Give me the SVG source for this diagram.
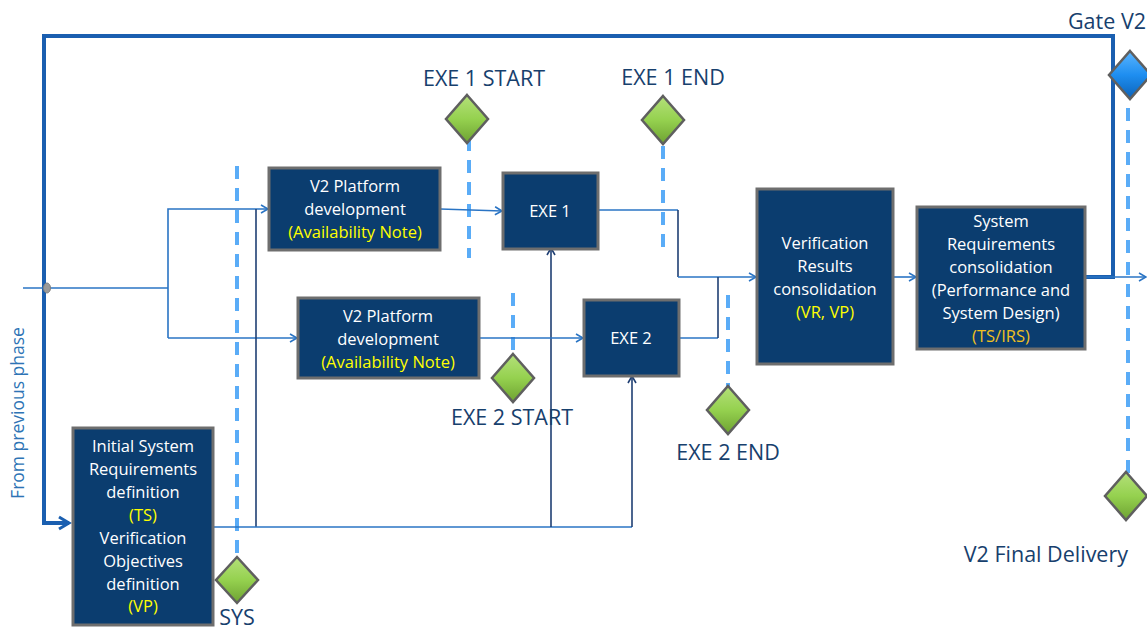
<svg xmlns="http://www.w3.org/2000/svg" width="1147" height="633" viewBox="0 0 1147 633">
<style>
.box{fill:#0b3d6f;stroke:#6e6e6e;stroke-width:3}
.bt{font-family:"Open Sans","Liberation Sans",sans-serif;font-size:16.5px;fill:#ffffff;text-anchor:middle}
.y{fill:#ffff00}
.g{fill:#f0c020}
.lbl{font-family:"Open Sans","Liberation Sans",sans-serif;font-size:21.5px;fill:#17406d;text-anchor:middle}
.c{fill:none;stroke:#2a74c4;stroke-width:1.6}
.cd{fill:none;stroke:#1f3f73;stroke-width:1.6}
.loop{fill:none;stroke:#1a5fb0;stroke-width:4}
.dash{fill:none;stroke:#5aacf7;stroke-width:4;stroke-dasharray:13 9}
.dia{fill:url(#gg);stroke:#5f5f5f;stroke-width:2.5}
</style>
<defs>
<linearGradient id="gg" x1="0" y1="0" x2="0" y2="1">
<stop offset="0" stop-color="#b4e07a"/><stop offset="0.5" stop-color="#95d14f"/><stop offset="1" stop-color="#6ea232"/>
</linearGradient>
<linearGradient id="bg" x1="0" y1="0" x2="0" y2="1">
<stop offset="0" stop-color="#5bb5ff"/><stop offset="0.5" stop-color="#1e8ef0"/><stop offset="1" stop-color="#0c62b8"/>
</linearGradient>
<marker id="a" markerWidth="10" markerHeight="10" refX="8" refY="5" orient="auto" markerUnits="userSpaceOnUse">
<path d="M1,1 L8,5 L1,9" fill="none" stroke="#2a74c4" stroke-width="1.6"/>
</marker>
<marker id="ad" markerWidth="10" markerHeight="10" refX="8" refY="5" orient="auto" markerUnits="userSpaceOnUse">
<path d="M1,1 L8,5 L1,9" fill="none" stroke="#1f3f73" stroke-width="1.6"/>
</marker>
<marker id="ab" markerWidth="16" markerHeight="16" refX="12" refY="8" orient="auto" markerUnits="userSpaceOnUse">
<path d="M2,2 L12,8 L2,14" fill="none" stroke="#1a5fb0" stroke-width="3"/>
</marker>
</defs>

<g id="milestones-lines">
<line class="dash" x1="237" y1="166" x2="237" y2="558"/>
<line class="dash" x1="469" y1="138" x2="469" y2="258"/>
<line class="dash" x1="663" y1="146" x2="663" y2="255"/>
<line class="dash" x1="513" y1="293" x2="513" y2="357"/>
<line class="dash" x1="728" y1="295" x2="728" y2="388"/>
<line class="dash" x1="1128" y1="108" x2="1128" y2="474"/>
</g>

<g id="connectors">
<path class="loop" d="M1086,277 L1113,277 L1113,36 L44,36 L44,523 L69,523" marker-end="url(#ab)"/>
<line class="c" x1="23" y1="288" x2="168" y2="288"/>
<path class="c" d="M168,338 L168,209 L268,209" marker-end="url(#a)"/>
<path class="c" d="M168,338 L297,338" marker-end="url(#a)"/>
<path class="cd" d="M256,527 L256,209"/>
<path class="c" d="M213,527 L632,527"/>
<path class="cd" d="M551,527 L551,248" marker-end="url(#ad)"/>
<path class="cd" d="M632,527 L632,376" marker-end="url(#ad)"/>
<path class="c" d="M440,209 L502,211" marker-end="url(#a)"/>
<path class="c" d="M479,338 L583,338" marker-end="url(#a)"/>
<path class="c" d="M598,210 L678,210"/>
<path class="cd" d="M678,210 L678,277"/>
<path class="c" d="M678,277 L756,277" marker-end="url(#a)"/>
<path class="c" d="M679,338 L718,338"/>
<path class="cd" d="M718,338 L718,277"/>
<path class="c" d="M893,277 L916,277" marker-end="url(#a)"/>
<path class="c" d="M1086,277 L1146,277" marker-end="url(#a)"/>
<ellipse cx="47" cy="288" rx="3.5" ry="5" fill="#9a9a9a" stroke="#808080" stroke-width="1"/>
</g>

<g id="init">
<rect class="box" x="73" y="428" width="140" height="197"/>
<text class="bt"><tspan x="143" y="452">Initial System</tspan><tspan x="143" y="475">Requirements</tspan><tspan x="143" y="498">definition</tspan><tspan x="143" y="521" class="y">(TS)</tspan><tspan x="143" y="544">Verification</tspan><tspan x="143" y="567">Objectives</tspan><tspan x="143" y="590">definition</tspan><tspan x="143" y="612" class="y">(VP)</tspan></text>
</g>

<g id="platform1">
<rect class="box" x="269" y="168" width="171" height="82"/>
<text class="bt"><tspan x="355" y="192">V2 Platform</tspan><tspan x="355" y="215">development</tspan><tspan x="355" y="238" class="y">(Availability Note)</tspan></text>
</g>

<g id="platform2">
<rect class="box" x="298" y="298" width="181" height="80"/>
<text class="bt"><tspan x="388" y="322">V2 Platform</tspan><tspan x="388" y="345">development</tspan><tspan x="388" y="368" class="y">(Availability Note)</tspan></text>
</g>

<g id="exe1">
<rect class="box" x="503" y="173" width="95" height="76"/>
<text class="bt" x="550" y="217">EXE 1</text>
</g>

<g id="exe2">
<rect class="box" x="584" y="300" width="95" height="76"/>
<text class="bt" x="631" y="344">EXE 2</text>
</g>

<g id="vr">
<rect class="box" x="757" y="189" width="136" height="175"/>
<text class="bt"><tspan x="825" y="249">Verification</tspan><tspan x="825" y="272">Results</tspan><tspan x="825" y="295">consolidation</tspan><tspan x="825" y="318" class="y">(VR, VP)</tspan></text>
</g>

<g id="sysreq">
<rect class="box" x="917" y="207" width="168" height="142"/>
<text class="bt"><tspan x="1001" y="227">System</tspan><tspan x="1001" y="250">Requirements</tspan><tspan x="1001" y="273">consolidation</tspan><tspan x="1001" y="296">(Performance and</tspan><tspan x="1001" y="319">System Design)</tspan><tspan x="1001" y="342" class="g">(TS/IRS)</tspan></text>
</g>

<g id="ms-sys">
<path class="dia" d="M237,557 L258,580 L237,603 L216,580 Z"/>
<text class="lbl" x="237" y="625">SYS</text>
</g>
<g id="ms-exe1start">
<path class="dia" d="M467,95 L488,119 L467,143 L446,119 Z"/>
<text class="lbl" x="484" y="86">EXE 1 START</text>
</g>
<g id="ms-exe1end">
<path class="dia" d="M663,96 L684,120 L663,144 L642,120 Z"/>
<text class="lbl" x="673" y="85">EXE 1 END</text>
</g>
<g id="ms-exe2start">
<path class="dia" d="M513,354 L534,378 L513,402 L492,378 Z"/>
<text class="lbl" x="512" y="425">EXE 2 START</text>
</g>
<g id="ms-exe2end">
<path class="dia" d="M728,386 L749,410 L728,434 L707,410 Z"/>
<text class="lbl" x="728" y="460">EXE 2 END</text>
</g>
<g id="ms-final">
<path class="dia" d="M1126,472 L1147,496 L1126,520 L1105,496 Z"/>
<text class="lbl" x="1128" y="562" style="text-anchor:end">V2 Final Delivery</text>
</g>
<g id="gate">
<path d="M1130,51 L1151,75 L1130,99 L1109,75 Z" fill="url(#bg)" stroke="#5f5f5f" stroke-width="2.5"/>
<text class="lbl" x="1146" y="29" style="text-anchor:end">Gate V2</text>
</g>
<g id="from">
<text x="0" y="0" transform="translate(24,413) rotate(-90)" font-family="Open Sans, Liberation Sans, sans-serif" font-size="17.5" fill="#2e74b5" text-anchor="middle">From previous phase</text>
</g>
</svg>
